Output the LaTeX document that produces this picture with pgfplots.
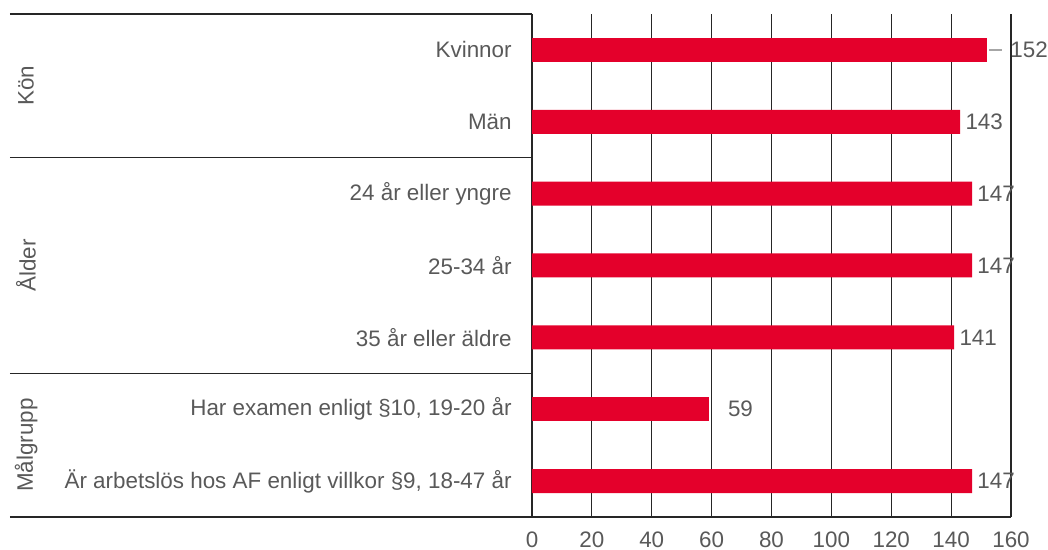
\documentclass[border=0pt]{standalone}
\usepackage{pgfplots}
\pgfplotsset{compat=1.18}
\usepackage{fontspec}
\setmainfont{Liberation Sans}
\definecolor{barred}{HTML}{E4002B}
\definecolor{txt}{HTML}{595959}
\definecolor{ln}{HTML}{262626}
\newcommand\fs{\fontsize{11.2}{13}\selectfont}

\begin{document}
\begin{tikzpicture}[font=\fs]
\useasboundingbox (-266pt,-16.5pt) rectangle (258pt,258.5pt);
\begin{axis}[
    at={(0,0)}, anchor=south west,
    scale only axis,
    width=239.5pt, height=251.5pt,
    xbar, bar width=12pt, bar shift=0pt,
    xmin=0, xmax=160,
    ymin=-0.5, ymax=6.5,
    axis x line*=bottom, axis y line*=left,
    axis line style={ln, line width=0.6pt},
    xtick={0,20,...,160},
    ytick={0,...,6},
    yticklabels={{Är arbetslös hos AF enligt villkor §9, 18-47 år},
                 {Har examen enligt §10, 19-20 år},
                 35 år eller äldre, 25-34 år, 24 år eller yngre, Män, Kvinnor},
    xmajorgrids, grid style={ln, line width=0.6pt},
    major tick length=0pt,
    tick label style={text=txt, font=\fs},
    xticklabel style={yshift=-4pt},
    yticklabel style={inner sep=0pt, xshift=-10pt},
    extra y ticks={-0.5,1.5,4.5,6.5},
    extra y tick labels={},
    extra y tick style={major tick length=261pt, tick align=outside,
        tick style={ln, line width=0.6pt}},
    /pgf/number format/assume math mode=true,
    clip=false,
    nodes near coords,
    every node near coord/.append style={anchor=west, text=txt, font=\fs,
        inner sep=0pt, xshift=2.5pt},
]
\addplot[fill=barred, draw=none] coordinates {
    (147,0) (141,2) (147,3) (147,4) (143,5)
};
\addplot[fill=barred, draw=none,
    every node near coord/.append style={xshift=7pt}] coordinates {
    (59,1)
};
\addplot[fill=barred, draw=none,
    every node near coord/.append style={xshift=9pt}] coordinates {
    (152,6)
};
\draw[gray!70, line width=0.6pt] (axis cs:152.6,6) -- (axis cs:157,6);
\node[rotate=90, text=txt] at (axis cs:-169,5.5) {Kön};
\node[rotate=90, text=txt] at (axis cs:-169,3) {Ålder};
\node[rotate=90, text=txt] at (axis cs:-169,0.5) {Målgrupp};
\end{axis}
\end{tikzpicture}
\end{document}
